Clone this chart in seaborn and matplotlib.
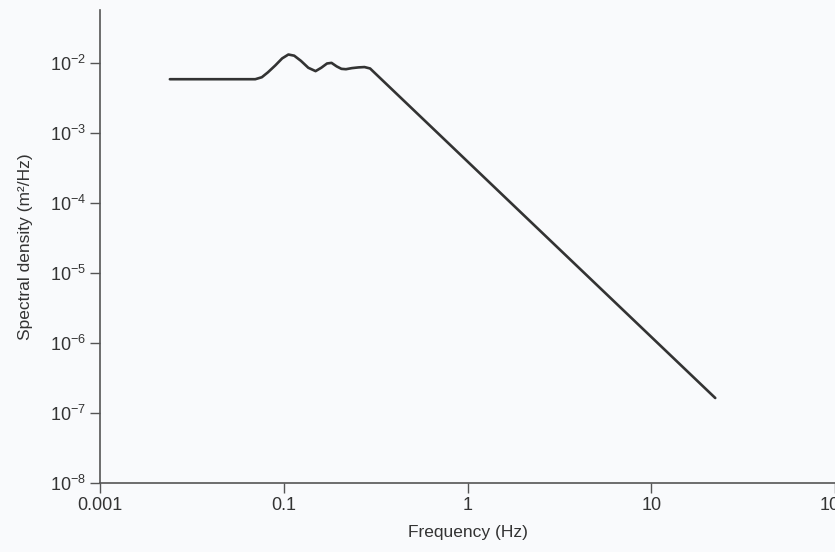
import numpy as np
import pandas as pd
import matplotlib
matplotlib.use("Agg")
import matplotlib.pyplot as plt
import seaborn as sns

# values (frequency in Hz, spectral density in m^2/Hz)
freq_hz = [0.024, 0.070, 0.076, 0.082, 0.090, 0.098, 0.106, 0.114, 0.124,
           0.136, 0.149, 0.160, 0.172, 0.182, 0.194, 0.206, 0.218, 0.235,
           0.255, 0.275, 0.295, 22.3]
psd = [5.9e-3, 5.9e-3, 6.3e-3, 7.4e-3, 9.3e-3, 1.17e-2, 1.33e-2, 1.28e-2, 1.08e-2,
       8.6e-3, 7.7e-3, 8.6e-3, 9.9e-3, 1.01e-2, 9.0e-3, 8.3e-3, 8.2e-3, 8.5e-3,
       8.7e-3, 8.8e-3, 8.4e-3, 1.64e-7]

x_ticks = [0.01, 0.1, 1, 10, 100]
x_tick_labels = ["0.001", "0.1", "1", "10", "100"]
y_ticks = [1e-8, 1e-7, 1e-6, 1e-5, 1e-4, 1e-3, 1e-2]
y_tick_labels = [r"$10^{-8}$", r"$10^{-7}$", r"$10^{-6}$", r"$10^{-5}$",
                 r"$10^{-4}$", r"$10^{-3}$", r"$10^{-2}$"]

df = pd.DataFrame({"freq": freq_hz, "psd": psd})

sns.set_style("ticks")
plt.rcParams["font.family"] = ["Liberation Sans", "DejaVu Sans"]
plt.rcParams["mathtext.fontset"] = "custom"
plt.rcParams["mathtext.rm"] = "Liberation Sans"
plt.rcParams["mathtext.it"] = "Liberation Sans"
plt.rcParams["axes.unicode_minus"] = False

fig = plt.figure(figsize=(8.35, 5.52), dpi=100, facecolor="#f9fafc")
ax = fig.add_axes([100 / 835, 69 / 552, 735 / 835, 473 / 552])
ax.set_facecolor("#f9fafc")

sns.lineplot(data=df, x="freq", y="psd", ax=ax, color="#333333",
             linewidth=1.9, sort=False, estimator=None)

ax.set_xscale("log")
ax.set_yscale("log")
ax.set_xlim(0.01, 100)
ax.set_ylim(1e-8, 10 ** -1.24)

ax.set_xticks(x_ticks)
ax.set_xticklabels(x_tick_labels)
ax.set_yticks(y_ticks)
ax.set_yticklabels(y_tick_labels)
ax.minorticks_off()
ax.tick_params(axis="both", labelsize=13, colors="#555555", length=7, width=1,
               direction="out", pad=3, labelcolor="#333333")

sns.despine(ax=ax)
for side in ["left", "bottom"]:
    ax.spines[side].set_color("#555555")
    ax.spines[side].set_linewidth(1.2)

ax.set_xlabel("Frequency (Hz)", fontsize=12.5, color="#333333", labelpad=8)
ax.set_ylabel("Spectral density (m\u00b2/Hz)", fontsize=12.5, color="#333333",
              labelpad=12)

plt.savefig("out.png", dpi=100, facecolor=fig.get_facecolor())
